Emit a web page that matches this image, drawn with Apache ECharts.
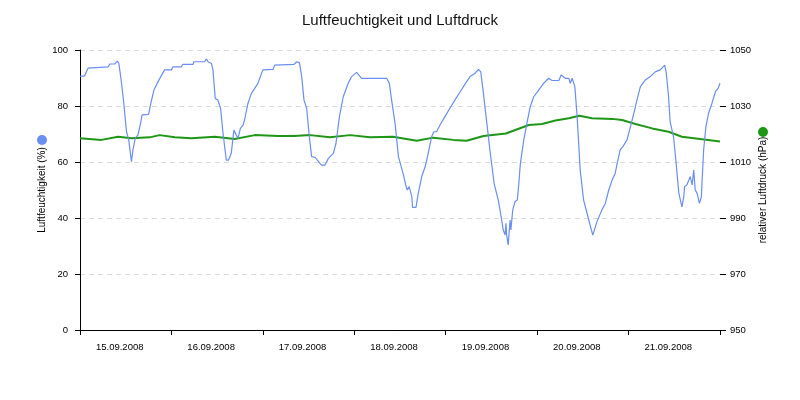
<!DOCTYPE html>
<html>
<head>
<meta charset="utf-8">
<script src="https://cdn.jsdelivr.net/npm/echarts@6/dist/echarts.min.js"></script>
<style>html,body{margin:0;padding:0;background:#fff}#c{width:800px;height:400px}</style>
</head>
<body>
<div id="c"></div>
<script>
const dayLabels = ['15.09.2008','16.09.2008','17.09.2008','18.09.2008','19.09.2008','20.09.2008','21.09.2008'];
const leftTicks = [0, 20, 40, 60, 80, 100];
const rightTicks = [950, 970, 990, 1010, 1030, 1050];

// hours since 15.09.2008 00:00
const humidityHours = [0,1.2,2.1,2.5,7.4,7.8,9.1,9.8,10.2,10.8,11.5,12.2,12.8,13.5,13.9,14.5,15.2,15.9,16.3,18.0,18.6,19.4,20.5,22.2,24.0,24.4,26.6,27.0,29.7,29.9,32.7,33.2,33.6,34.5,34.9,35.5,36.2,36.9,37.5,38.4,39.0,39.7,40.4,41.0,41.5,42.1,42.8,43.2,44.1,45.0,46.7,48.0,50.7,51.1,56.2,56.9,57.6,58.2,58.8,59.5,60.2,60.8,61.7,62.6,63.4,64.3,65.2,66.5,67.2,68.1,69.1,70.4,71.3,72.6,73.1,73.9,80.5,81.2,81.8,82.7,83.6,84.9,85.6,85.9,86.4,87.1,87.3,88.2,88.8,89.7,90.6,91.4,92.3,92.9,93.6,94.5,95.8,97.1,98.4,99.8,101.5,102.4,103.7,104.6,105.2,105.9,106.8,107.6,108.7,109.8,110.4,111.1,111.6,111.8,112.0,112.4,112.9,113.1,113.6,114.2,114.8,115.2,115.6,116.5,117.3,118.2,119.1,120.4,121.7,123.0,123.9,125.7,126.3,127.4,128.3,128.7,129.2,129.9,130.5,131.3,132.2,133.1,134.0,134.6,135.3,135.7,136.2,137.0,137.9,138.8,139.7,140.5,141.0,141.8,142.5,143.6,144.5,145.6,146.2,147.1,148.4,149.7,151.0,152.3,153.5,153.9,154.5,154.9,155.8,156.4,157.2,158.0,158.5,158.7,159.3,159.8,160.2,160.7,161.1,161.5,162.0,162.6,163.1,163.7,164.3,165.0,165.9,166.8,167.5,168];
const humidity = [90.7,90.7,93.5,94,94,95,95,96,95.2,89.3,81,70.8,67.9,60.1,64.3,68.5,69.6,73.8,76.8,77,81,85.7,88.7,92.9,92.9,94,94,94.9,94.9,95.8,95.8,96.8,95.8,95.2,92.9,82.7,82.1,79.2,70.8,60.7,60.7,63.1,71.4,69.6,68.5,72,73.2,75,81,84.5,88.1,92.9,93.1,94.6,94.9,95.8,95.5,90.5,82.1,79.2,69,61.9,61.7,60.1,58.9,58.9,61.3,63.1,66.7,76.2,83.3,88.1,90.5,92,91.7,89.9,89.9,88.1,82.1,73.8,61.9,55.4,51.2,50,51.2,47.6,43.8,43.8,48.8,54.8,58.3,63.1,69,70.8,70.8,73.2,76.2,79.2,82.1,85.1,88.7,90.5,91.7,93.1,92.2,84.5,73.8,64.3,52.4,46.4,41.7,35.7,33.9,38.1,33.9,30.4,39.3,35.7,42.9,45.8,46.4,52.4,59.5,67.9,73.8,79.8,83.3,85.7,88.1,89.9,89.1,89.1,91.1,89.9,89.9,88.1,89.9,86.9,76.2,57.1,46.4,41.7,36.9,33.9,36.9,38.7,38.1,42.9,45.2,50,53.6,56,59.5,64.3,65.5,67.9,72.6,78.6,82.1,86.9,89.3,90.5,92.2,92.9,94.6,91.7,83.3,74.4,69,60.7,48.8,44,47.6,51.2,51.8,51.2,54.8,51.8,57.1,50,48.8,45.2,47.6,64.3,72.6,77.4,81,85.1,86.3,88.1];

const pressureHours = [0,5.6,10.0,13.5,18.3,20.9,24.9,29.2,35.4,40.6,45.9,52.0,56.2,60.4,65.6,70.9,76.1,82.2,88.4,92.7,98.0,101.5,105.9,111.8,117.8,121.3,124.8,128.3,131.1,134.4,139.7,142.3,145.8,150.2,154.5,158.0,163.3,168];
const pressure = [1018.5,1017.9,1019,1018.5,1018.8,1019.6,1018.8,1018.5,1019,1018.2,1019.6,1019.3,1019.3,1019.6,1018.8,1019.6,1018.8,1019,1017.6,1018.7,1017.9,1017.6,1019.3,1020.2,1023.2,1023.6,1024.8,1025.6,1026.5,1025.6,1025.4,1025,1023.6,1022,1020.8,1019,1018.1,1017.3];

const FONT = 'Liberation Sans';
const chart = echarts.init(document.getElementById('c'), null, {renderer: 'canvas'});
chart.setOption({
  animation: false,
  backgroundColor: '#fff',
  textStyle: {fontFamily: FONT},
  title: {
    text: 'Luftfeuchtigkeit und Luftdruck',
    left: 'center', top: 8,
    textStyle: {fontFamily: FONT, fontSize: 15, fontWeight: 'normal', color: '#111'}
  },
  legend: [
    {data: ['Luftfeuchtigkeit'], left: 37, top: 135, icon: 'circle', itemWidth: 10, itemHeight: 10, itemGap: 0, formatter: () => '', textStyle: {fontSize: 1}, padding: 0},
    {data: ['relativer Luftdruck'], left: 758, top: 127, icon: 'circle', itemWidth: 10, itemHeight: 10, itemGap: 0, formatter: () => '', textStyle: {fontSize: 1}, padding: 0}
  ],
  grid: {left: 80, right: 80, top: 50, bottom: 70},
  xAxis: [
    {
      type: 'value', min: 0, max: 168, interval: 24,
      axisLine: {show: true, lineStyle: {color: '#000', width: 1}},
      axisTick: {show: true, length: 5, lineStyle: {color: '#000'}},
      axisLabel: {show: false},
      splitLine: {show: false}
    },
    {
      type: 'category', data: dayLabels, boundaryGap: true, position: 'bottom',
      axisLine: {show: false}, axisTick: {show: false},
      axisLabel: {margin: 12, fontSize: 9.5, color: '#000', fontFamily: FONT, padding: [0, 12, 0, 0]},
      splitLine: {show: false}
    }
  ],
  yAxis: [
    {
      type: 'value', min: leftTicks[0], max: leftTicks[leftTicks.length - 1], interval: 20,
      name: 'Luftfeuchtigkeit (%)', nameLocation: 'middle', nameGap: 33, nameRotate: 90, nameMoveOverlap: false,
      nameTextStyle: {fontSize: 10, color: '#000', fontFamily: FONT},
      axisLine: {show: true, lineStyle: {color: '#000'}},
      axisTick: {show: true, length: 5, lineStyle: {color: '#000'}},
      axisLabel: {margin: 12, fontSize: 9.5, color: '#000', fontFamily: FONT},
      splitLine: {show: true, lineStyle: {color: '#dcdcdc', type: [5, 4]}}
    },
    {
      type: 'value', min: rightTicks[0], max: rightTicks[rightTicks.length - 1], interval: 20, position: 'right',
      name: 'relativer Luftdruck (hPa)', nameLocation: 'middle', nameGap: 38, nameRotate: 90, nameMoveOverlap: false,
      nameTextStyle: {fontSize: 10, color: '#000', fontFamily: FONT},
      axisLine: {show: false},
      axisTick: {show: true, length: 6, lineStyle: {color: '#000'}},
      axisLabel: {margin: 10, fontSize: 9.5, color: '#000', fontFamily: FONT, formatter: v => String(v)},
      splitLine: {show: false}
    }
  ],
  series: [
    {
      name: 'Luftfeuchtigkeit', type: 'line', xAxisIndex: 0, yAxisIndex: 0,
      data: humidityHours.map((h, i) => [h, humidity[i]]),
      showSymbol: false, symbol: 'none', color: '#6a8ef2',
      lineStyle: {width: 1.2, color: '#6a8ef2'}, z: 3
    },
    {
      name: 'relativer Luftdruck', type: 'line', xAxisIndex: 0, yAxisIndex: 1,
      data: pressureHours.map((h, i) => [h, pressure[i]]),
      showSymbol: false, symbol: 'none', color: '#1e9616',
      lineStyle: {width: 2, color: '#1e9616'}, z: 2
    }
  ]
});
</script>
</body>
</html>
